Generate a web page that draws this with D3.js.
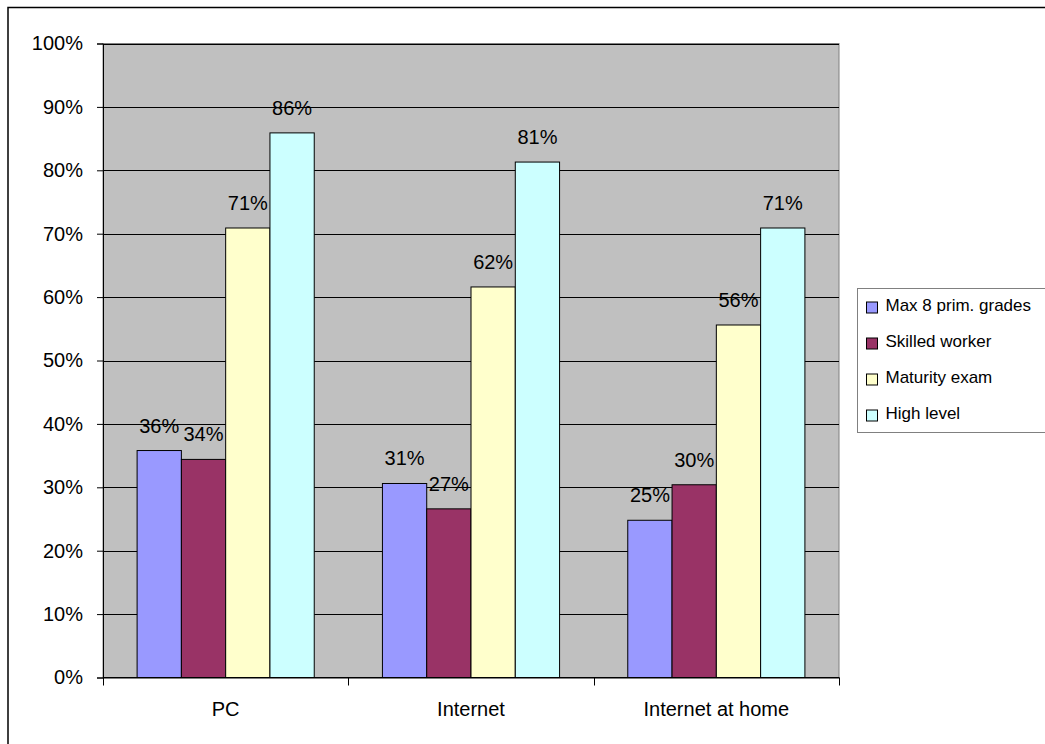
<!DOCTYPE html>
<html>
<head>
<meta charset="utf-8">
<script src="https://cdn.jsdelivr.net/npm/d3@7"></script>
<style>
  html, body { margin: 0; padding: 0; background: #fff; }
  svg { display: block; font-family: "Liberation Sans", Arial, sans-serif; }
</style>
</head>
<body>
<svg id="chart" width="1045" height="744"></svg>
<script>
const categories = ["PC", "Internet", "Internet at home"];
const seriesNames = ["Max 8 prim. grades", "Skilled worker", "Maturity exam", "High level"];
const maxPrim = [0.358, 0.306, 0.248];
const skilled = [0.344, 0.266, 0.304];
const maturity = [0.709, 0.616, 0.556];
const highLevel = [0.859, 0.813, 0.709];
const seriesColors = ["#9999FF", "#993366", "#FFFFCC", "#CCFFFF"];
const yTicks = [0, 0.1, 0.2, 0.3, 0.4, 0.5, 0.6, 0.7, 0.8, 0.9, 1.0];

const seriesValues = [maxPrim, skilled, maturity, highLevel];

const svg = d3.select("#chart");
const plot = { left: 103, right: 839, top: 43.5, bottom: 677.5 };

// outer chart border
svg.append("rect")
  .attr("x", 8).attr("y", 7.5)
  .attr("width", 1100).attr("height", 800)
  .attr("fill", "#fff").attr("stroke", "#000").attr("stroke-width", 1.5);

const x0 = d3.scaleBand().domain(categories).range([plot.left, plot.right]).padding(0);
const x1 = d3.scaleBand().domain(seriesNames).range([0, x0.bandwidth()]).paddingInner(0).paddingOuter(0.77);
const y = d3.scaleLinear().domain([0, 1]).range([plot.bottom, plot.top]);

// plot background
svg.append("rect")
  .attr("x", plot.left).attr("y", plot.top)
  .attr("width", plot.right - plot.left).attr("height", plot.bottom - plot.top)
  .attr("fill", "#C0C0C0").attr("stroke", "#808080").attr("stroke-width", 1);

// gridlines
svg.append("g").selectAll("line").data(yTicks.filter(t => t > 0))
  .join("line")
  .attr("x1", plot.left).attr("x2", plot.right)
  .attr("y1", d => Math.round(y(d)) + 0.5).attr("y2", d => Math.round(y(d)) + 0.5)
  .attr("stroke", "#000").attr("stroke-width", 1);

// y axis
const yAxis = d3.axisLeft(y).tickValues(yTicks).tickFormat(d3.format(".0%")).tickSize(6).tickPadding(14);
const gy = svg.append("g").attr("transform", `translate(${plot.left},0)`).call(yAxis);
gy.select(".domain").attr("stroke", "#000");
gy.selectAll(".tick line").attr("stroke", "#000");
gy.selectAll(".tick text").attr("font-size", 20).attr("fill", "#000")
  .attr("font-family", "'Liberation Sans', Arial, sans-serif");

// x axis
const xAxis = d3.axisBottom(x0).tickSize(0).tickPadding(24);
const gx = svg.append("g").attr("transform", `translate(0,${plot.bottom})`).call(xAxis);
gx.select(".domain").attr("stroke", "#000");
gx.selectAll(".tick text").attr("font-size", 20).attr("fill", "#000")
  .attr("font-family", "'Liberation Sans', Arial, sans-serif");
// category separators below axis
const boundaries = categories.map(c => x0(c)).concat([plot.right]);
svg.append("g").selectAll("line").data(boundaries)
  .join("line")
  .attr("x1", d => Math.round(d) + 0.5).attr("x2", d => Math.round(d) + 0.5)
  .attr("y1", plot.bottom).attr("y2", plot.bottom + 8)
  .attr("stroke", "#000");

// bars
const data = [];
categories.forEach((c, ci) => {
  seriesNames.forEach((s, si) => {
    data.push({ cat: c, series: s, si, value: seriesValues[si][ci] });
  });
});

svg.append("g").selectAll("rect").data(data)
  .join("rect")
  .attr("x", d => x0(d.cat) + x1(d.series))
  .attr("y", d => y(d.value))
  .attr("width", x1.bandwidth())
  .attr("height", d => y(0) - y(d.value))
  .attr("fill", d => seriesColors[d.si])
  .attr("stroke", "#000").attr("stroke-width", 1);

// data labels
svg.append("g").selectAll("text").data(data)
  .join("text")
  .attr("x", d => x0(d.cat) + x1(d.series) + x1.bandwidth() / 2)
  .attr("y", d => y(d.value) - 18)
  .attr("text-anchor", "middle")
  .attr("font-size", 20).attr("fill", "#000")
  .text(d => d3.format(".0%")(d.value));

// x axis line redraw on top
svg.append("line")
  .attr("x1", plot.left).attr("x2", plot.right)
  .attr("y1", plot.bottom).attr("y2", plot.bottom)
  .attr("stroke", "#000");

// legend
const legend = svg.append("g");
legend.append("rect")
  .attr("x", 857.5).attr("y", 288.5)
  .attr("width", 300).attr("height", 144)
  .attr("fill", "#fff").attr("stroke", "#808080").attr("stroke-width", 1);
const items = legend.selectAll("g.item").data(seriesNames)
  .join("g").attr("class", "item")
  .attr("transform", (d, i) => `translate(0,${310.5 + i * 36})`);
items.append("rect")
  .attr("x", 866.5).attr("y", -8.5)
  .attr("width", 11).attr("height", 11)
  .attr("fill", (d, i) => seriesColors[i]).attr("stroke", "#000");
items.append("text")
  .attr("x", 885.5).attr("y", 0)
  .attr("font-size", 17).attr("fill", "#000")
  .text(d => d);
</script>
</body>
</html>
